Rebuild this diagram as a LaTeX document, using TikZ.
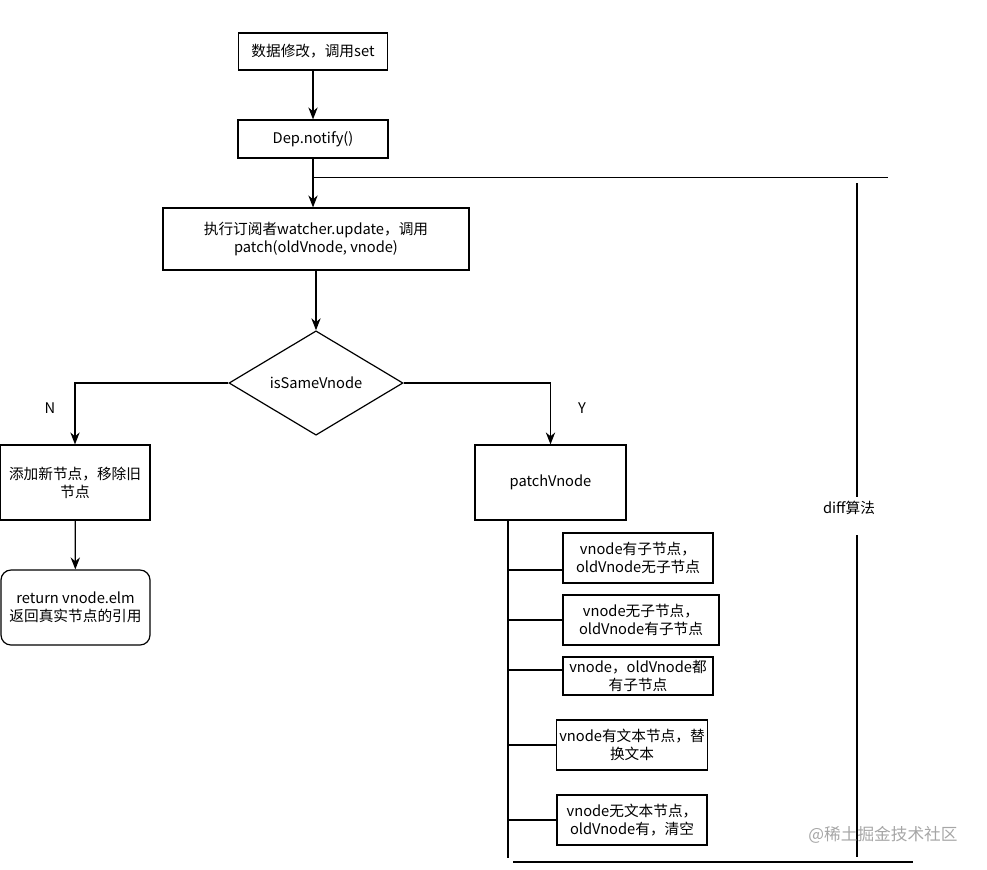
\documentclass[tikz,border=0pt]{standalone}
\usepackage{fontspec}
\setmainfont{Noto Sans CJK SC}
\usetikzlibrary{shapes.geometric,arrows.meta}
\newdimen\pxu \pxu=0.75pt
\tikzset{
    wire/.style={line width=0.9pt},
    flow/.style={wire,-{Stealth[length=9pt,width=7pt]}},
    proc/.style 2 args={draw,wire,align=center,inner sep=2pt,
        minimum width=#1\pxu,minimum height=#2\pxu},
}
\begin{document}
\begin{tikzpicture}[x=0.75pt,y=-0.75pt,font=\fontsize{11}{13.5}\selectfont]
    \useasboundingbox (0,0) rectangle (987,869);
    %% main column
    \node[proc={149}{37}] (set) at (313,51.5) {数据修改，调用set};
    \node[proc={150}{38}] (dep) at (313,139) {Dep.notify()};
    \node[proc={306}{62}] (watch) at (316,239) {执行订阅者watcher.update，调用\\patch(oldVnode, vnode)};
    \node[draw,wire,shape=diamond,inner sep=0pt,minimum width=174\pxu,minimum height=100\pxu] (same) at (316,383) {isSameVnode};
    \draw[flow] (set) -- (dep);
    \draw[flow] (dep.south) -- (dep.south |- watch.north);
    \draw[flow] (watch) -- (watch.south |- same.north);
    %% N branch
    \node[proc={150}{75}] (renew) at (75,482.5) {添加新节点，移除旧\\节点};
    \node[proc={149}{75},rounded corners=10\pxu] (ret) at (75.5,607.5) {return vnode.elm\\返回真实节点的引用};
    \draw[flow] (same.west) -| (renew.north);
    \draw[flow] (renew) -- (ret);
    \node (no) at (50,408) {N};
    %% Y branch
    \node[proc={151}{75}] (pv) at (550.5,482.5) {patchVnode};
    \draw[flow] (same.east) -| (pv.north);
    \node (yes) at (582,408) {Y};
    \node[proc={150}{50}] (c1) at (638,558) {vnode有子节点，\\oldVnode无子节点};
    \node[proc={156}{50}] (c2) at (641,620) {vnode无子节点，\\oldVnode有子节点};
    \node[proc={150}{38}] (c3) at (638,676) {vnode，oldVnode都\\有子节点};
    \node[proc={150}{50}] (c4) at (632,745) {vnode有文本节点，替\\换文本};
    \node[proc={150}{50}] (c5) at (632,820) {vnode无文本节点，\\oldVnode有，清空};
    \coordinate (trunk) at (508,858);
    \draw[wire] (pv.south -| trunk) -- (trunk);
    \foreach \c/\y in {c1/570,c2/620,c3/670,c4/745,c5/820} {
        \coordinate (b) at (508,\y);
        \draw[wire] (b) -- (\c.west |- b);
    }
    %% diff bracket
    \path (dep.south) ++(0,19) coordinate (tap);
    \draw[wire] (tap) -- ++(575,0);
    \node (diff) at (849,508) {diff算法};
    \draw[wire] (857,183) -- (857,497);
    \draw[wire] (857,535) -- (857,857);
    \draw[wire] (513,862) -- (913,862);
    %% watermark
    \node[text=black!35,font=\fontsize{12.5}{14}\selectfont] (mark) at (883,835) {@稀土掘金技术社区};
\end{tikzpicture}
\end{document}
